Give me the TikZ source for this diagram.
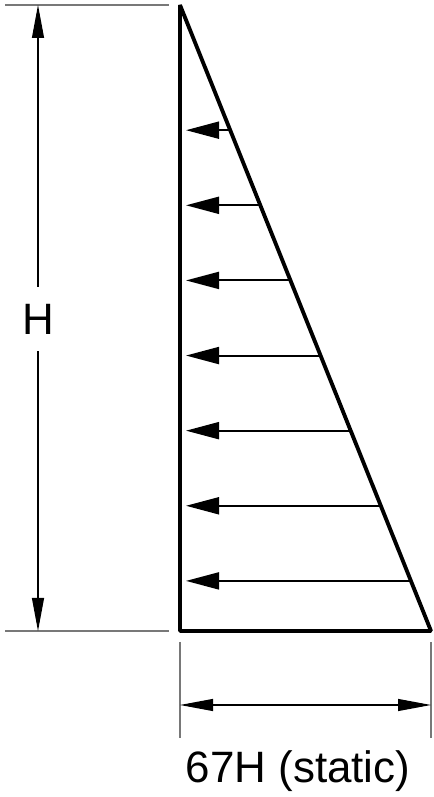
\documentclass[tikz,border=0pt]{standalone}
\usepackage{fontspec}
\setmainfont{Liberation Sans}
\usetikzlibrary{arrows.meta, calc, positioning}
\usepackage{xcolor}
\definecolor{extcolor}{RGB}{120, 120, 120}

\begin{document}
\begin{tikzpicture}[
    wall/.style={line width=2.2pt, line join=bevel},
    load/.style={-{Triangle[length=0.66cm, width=0.34cm]}, line width=1.1pt},
    dimline/.style={-{Triangle[length=0.66cm, width=0.24cm]}, line width=0.6pt},
    dim/.style={dimline, {Triangle[length=0.66cm, width=0.24cm]}-{Triangle[length=0.66cm, width=0.24cm]}},
    ext/.style={line width=0.6pt, draw=extcolor},
    lbl/.style={font=\fontsize{25}{30}\selectfont, inner sep=0pt}
]
\useasboundingbox (0,0) rectangle (8.66,15.94);

% Pressure triangle
\coordinate (top) at (3.6,15.84);
\coordinate (bl) at (3.6,3.32);
\coordinate (br) at (8.62,3.32);
\draw[wall] (top) -- (bl) -- (br) -- cycle;

% Load arrows
\coordinate (p1) at ($(top)!0.20!(br)$);
\coordinate (w1) at ($(top)!0.20!(bl)+(0.12,0)$);
\coordinate (p2) at ($(top)!0.32!(br)$);
\coordinate (w2) at ($(top)!0.32!(bl)+(0.12,0)$);
\coordinate (p3) at ($(top)!0.44!(br)$);
\coordinate (w3) at ($(top)!0.44!(bl)+(0.12,0)$);
\coordinate (p4) at ($(top)!0.56!(br)$);
\coordinate (w4) at ($(top)!0.56!(bl)+(0.12,0)$);
\coordinate (p5) at ($(top)!0.68!(br)$);
\coordinate (w5) at ($(top)!0.68!(bl)+(0.12,0)$);
\coordinate (p6) at ($(top)!0.80!(br)$);
\coordinate (w6) at ($(top)!0.80!(bl)+(0.12,0)$);
\coordinate (p7) at ($(top)!0.92!(br)$);
\coordinate (w7) at ($(top)!0.92!(bl)+(0.12,0)$);
\draw[load] (p1) -- (w1);
\draw[load] (p2) -- (w2);
\draw[load] (p3) -- (w3);
\draw[load] (p4) -- (w4);
\draw[load] (p5) -- (w5);
\draw[load] (p6) -- (w6);
\draw[load] (p7) -- (w7);

% Height dimension
\coordinate (ht_a) at (0.1,15.84);
\coordinate (ht_b) at (3.38,15.84);
\coordinate (hb_a) at (0.1,3.32);
\coordinate (hb_b) at (3.38,3.32);
\draw[ext] (ht_a) -- (ht_b);
\draw[ext] (hb_a) -- (hb_b);
\coordinate (h_top) at (0.76,15.84);
\coordinate (h_bot) at (0.76,3.32);
\node[lbl, minimum height=1.28cm] (h_lbl) at (0.76,9.56) {H};
\draw[dimline] (h_lbl.north) -- (h_top);
\draw[dimline] (h_lbl.south) -- (h_bot);

% Width dimension
\coordinate (wl_a) at (3.6,3.1);
\coordinate (wl_b) at (3.6,1.18);
\coordinate (wr_a) at (8.62,3.1);
\coordinate (wr_b) at (8.62,1.18);
\draw[ext] (wl_a) -- (wl_b);
\draw[ext] (wr_a) -- (wr_b);
\coordinate (w_left) at (3.6,1.84);
\coordinate (w_right) at (8.62,1.84);
\draw[dim] (w_left) -- (w_right);
\node[lbl, anchor=base] (w_lbl) at (5.96,0.28) {67H (static)};

\end{tikzpicture}
\end{document}
